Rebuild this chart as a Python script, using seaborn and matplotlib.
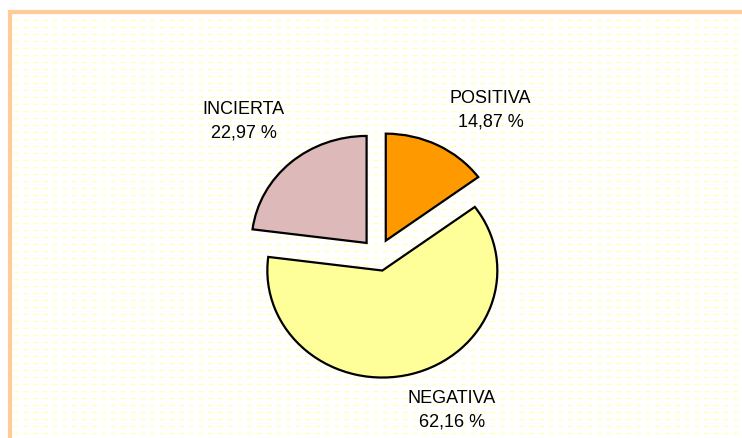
import numpy as np
import matplotlib
matplotlib.use("Agg")
import matplotlib.pyplot as plt
from matplotlib.patches import Rectangle
import seaborn as sns

# data
categories = ["POSITIVA", "NEGATIVA", "INCIERTA"]
percents = [14.87, 62.16, 22.97]
colors = ["#FF9900", "#FFFF99", "#DDB9B9"]

sns.set_style("white")
plt.rcParams["font.family"] = ["Liberation Sans", "DejaVu Sans"]

W, H = 742, 439
fig = plt.figure(figsize=(W / 100, H / 100), dpi=100)

# background: dashed pale yellow stripes + orange frame
bg = fig.add_axes([0, 0, 1, 1])
bg.set_xlim(0, W)
bg.set_ylim(H, 0)
bg.axis("off")
bg.hlines(np.arange(21, H, 7), 13, W, colors="#FFFFC4", linewidth=1,
          linestyles=(0, (4, 3)))
fig.patches.append(Rectangle((10 / W, -0.1), 1.2, (H - 13) / H + 0.1,
                             transform=fig.transFigure, fill=False,
                             edgecolor="#FFCC99", linewidth=3))

# pie (slightly wider than tall, all slices pulled out)
cx, cy, rx, ry = 378, 256, 115, 107
ax = fig.add_axes([0, 0, 1, 1])
ax.patch.set_alpha(0)
wedges, _ = ax.pie(percents, colors=colors, startangle=90, counterclock=False,
                   explode=[0.15] * 3,
                   wedgeprops=dict(edgecolor="black", linewidth=1.6))
ax.set_aspect("auto")
ax.set_xlim(-cx / rx, (W - cx) / rx)
ax.set_ylim((cy - H) / ry, cy / ry)
ax.axis("off")

label_pos = {"POSITIVA": (0.98, 1.36), "NEGATIVA": (0.64, -1.44),
             "INCIERTA": (-1.17, 1.26)}
for name, p in zip(categories, percents):
    txt = f"{name}\n{p:.2f}".replace(".", ",") + " %"
    x, y = label_pos[name]
    ax.text(x, y, txt, ha="center", va="center", fontsize=13,
            linespacing=1.5, color="black")

fig.savefig("out.png", dpi=100)
